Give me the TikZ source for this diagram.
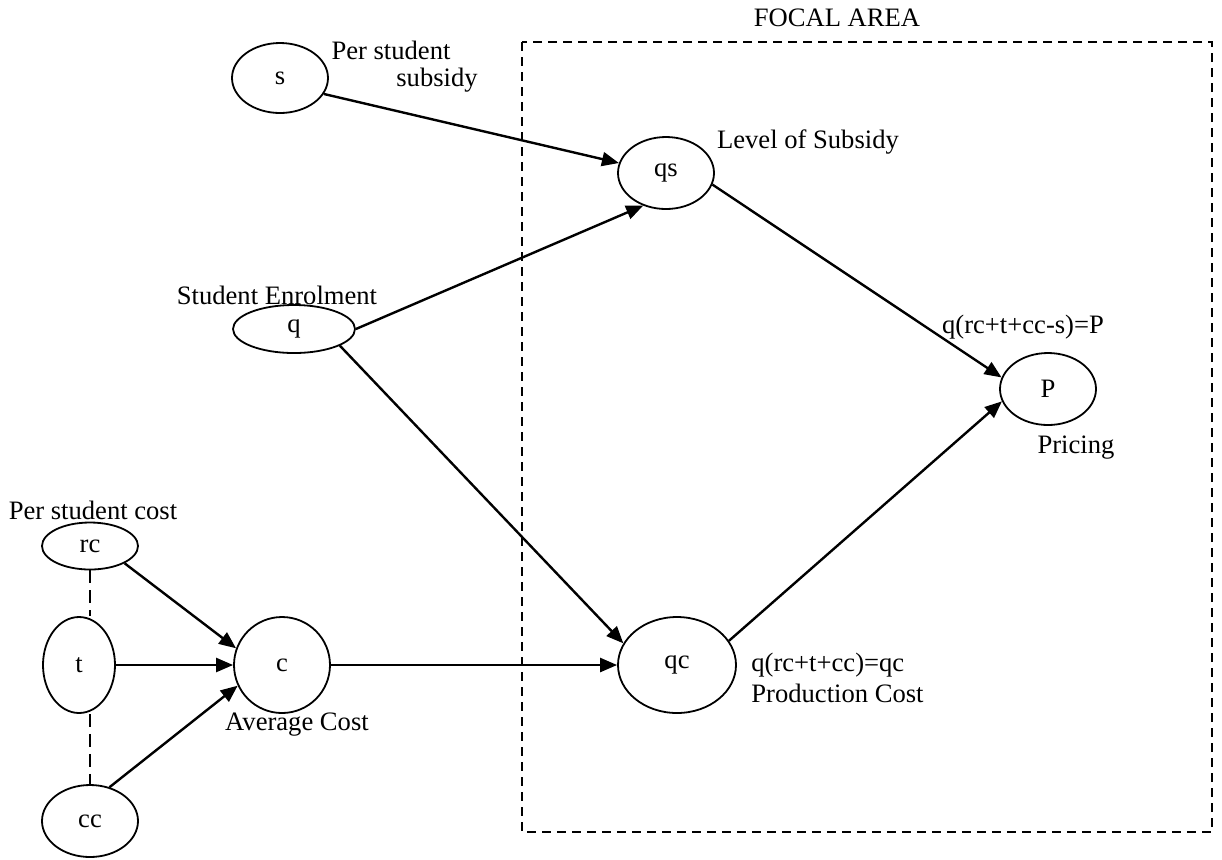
\documentclass[tikz,border=0pt]{standalone}
\usepackage{fontspec}
\setmainfont{Liberation Serif}
\usetikzlibrary{shapes.geometric,arrows.meta}
\tikzset{
  var/.style={draw, ellipse, line width=0.9pt, inner sep=0pt, font=\fontsize{13.3}{15}\selectfont},
  link/.style={-{Triangle[length=8.5pt,width=7pt]}, line width=1.2pt},
  tie/.style={line width=0.7pt, dash pattern=on 6.5pt off 3.5pt},
  focal/.style={line width=0.8pt, dash pattern=on 4.5pt off 3pt},
  txt/.style={inner sep=0pt, font=\fontsize{13.3}{15}\selectfont}
}

\begin{document}
\begin{tikzpicture}[x=0.5pt,y=-0.5pt]
  \useasboundingbox (0,0) rectangle (1222,859);
  % focal area
  \draw[focal] (522,42) rectangle (1212,832);
  \node[txt] (focaltitle) at (837,18) {FOCAL AREA};
  % variables
  \node[var, minimum width=48pt, minimum height=35pt] (s) at (280,78) {s};
  \node[var, minimum width=61pt, minimum height=24pt] (q) at (294,329) {q};
  \node[var, minimum width=48pt, minimum height=36pt] (qs) at (666,173) {qs};
  \node[var, minimum width=48pt, minimum height=36pt] (P) at (1048,389) {P};
  \node[var, minimum width=59pt, minimum height=48pt] (qc) at (677,665) {qc};
  \node[var, minimum width=48pt, minimum height=23.5pt] (rc) at (90,546) {rc};
  \node[var, minimum width=36pt, minimum height=48pt] (t) at (79,665) {t};
  \node[var, minimum width=48pt, minimum height=48pt] (c) at (282,665) {c};
  \node[var, minimum width=48pt, minimum height=36pt] (cc) at (90,821) {cc};
  % labels
  \node[txt] (subsA) at (391,50) {Per student};
  \node[txt] (subsB) at (437,80) {subsidy};
  \node[txt] (enrol) at (277,295) {Student Enrolment};
  \node[txt] (level) at (808,142) {Level of Subsidy};
  \node[txt] (price) at (1023,327) {q(rc+t+cc-s)=P};
  \node[txt] (pricing) at (1076,448) {Pricing};
  \node[txt, anchor=west] (prod) at (751,665) {q(rc+t+cc)=qc};
  \node[txt, anchor=west] (prodcost) at (751,693) {Production Cost};
  \node[txt] (stcost) at (93,510) {Per student cost};
  \node[txt] (avg) at (297,725) {Average Cost};
  % cost components
  \draw[tie] (rc.south) -- (rc.south |- t.north);
  \draw[tie] (cc.north |- t.south) -- (cc.north);
  \draw[link] (rc.south east) -- (c.160);
  \draw[link] (t) -- (c);
  \draw[link] (cc.60) -- (c.205);
  \draw[link] (c) -- (qc);
  % quantities
  \draw[link] (s.-20) -- (qs.168);
  \draw[link] (q.east) -- (qs.235);
  \draw[link] (q.-20) -- (qc.158);
  \draw[link] (qs.-14) -- (P.166);
  \draw[link] (qc.25) -- (P.195);
\end{tikzpicture}
\end{document}
